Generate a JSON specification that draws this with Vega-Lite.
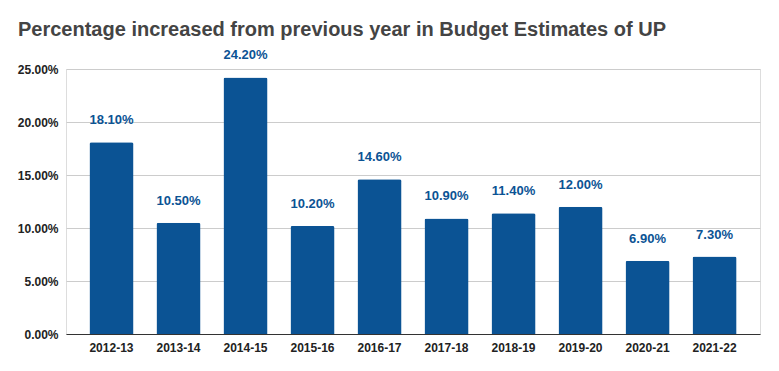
{
  "$schema": "https://vega.github.io/schema/vega-lite/v6.json",
  "width": 694,
  "height": 265,
  "autosize": {"type": "none"},
  "padding": {"left": 66, "top": 69, "right": 19, "bottom": 37},
  "background": "white",
  "title": {
    "text": "Percentage increased from previous year in Budget Estimates of UP",
    "anchor": "start",
    "frame": "group",
    "dx": -48,
    "offset": 9,
    "font": "Liberation Sans",
    "fontSize": 20,
    "fontWeight": "bold",
    "color": "#444444"
  },
  "data": {
    "values": [
      {"year": "2012-13", "pct": 0.181},
      {"year": "2013-14", "pct": 0.105},
      {"year": "2014-15", "pct": 0.242},
      {"year": "2015-16", "pct": 0.102},
      {"year": "2016-17", "pct": 0.146},
      {"year": "2017-18", "pct": 0.109},
      {"year": "2018-19", "pct": 0.114},
      {"year": "2019-20", "pct": 0.12},
      {"year": "2020-21", "pct": 0.069},
      {"year": "2021-22", "pct": 0.073}
    ]
  },
  "encoding": {
    "x": {
      "field": "year",
      "type": "nominal",
      "sort": null,
      "title": null,
      "scale": {"paddingInner": 0.343, "paddingOuter": 0.35},
      "axis": {
        "labelAngle": 0,
        "labelFont": "Liberation Sans",
        "labelFontSize": 12,
        "labelFontWeight": "bold",
        "labelColor": "#222222",
        "labelPadding": 8,
        "ticks": false,
        "domainColor": "#333333",
        "domainWidth": 1,
        "grid": false
      }
    },
    "y": {
      "field": "pct",
      "type": "quantitative",
      "title": null,
      "scale": {"domain": [0, 0.25], "nice": false},
      "axis": {
        "format": ".2%",
        "values": [0, 0.05, 0.1, 0.15, 0.2, 0.25],
        "labelFont": "Liberation Sans",
        "labelFontSize": 12,
        "labelFontWeight": "bold",
        "labelColor": "#222222",
        "labelPadding": 8,
        "ticks": false,
        "domain": false,
        "gridColor": "#cccccc",
        "gridWidth": 1
      }
    }
  },
  "layer": [
    {
      "mark": {"type": "bar", "color": "#0b5394", "cornerRadiusTopLeft": 2, "cornerRadiusTopRight": 2}
    },
    {
      "mark": {
        "type": "text",
        "baseline": "bottom",
        "dy": -15,
        "font": "Liberation Sans",
        "fontSize": 13,
        "fontWeight": "bold",
        "color": "#0b5394"
      },
      "encoding": {
        "text": {"field": "pct", "type": "quantitative", "format": ".2%"}
      }
    }
  ]
}
